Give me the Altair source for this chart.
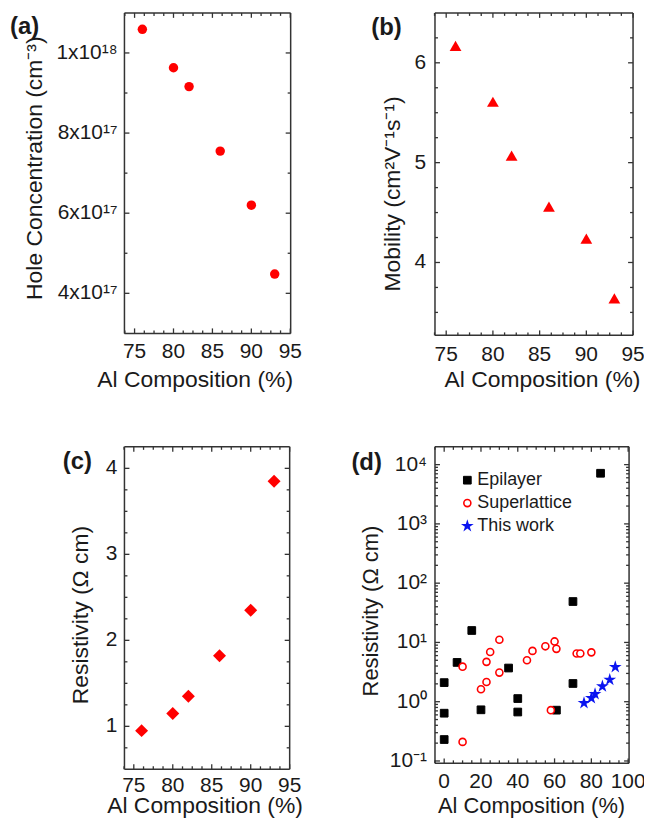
import altair as alt
import pandas as pd

# ---------------- data ----------------
AL_THIS = [76, 80, 82, 86, 90, 93]
HOLE_CONC = [1.059e18, 9.63e17, 9.16e17, 7.55e17, 6.2e17, 4.48e17]
MOBILITY = [6.17, 5.61, 5.07, 4.56, 4.24, 3.64]
RESISTIVITY = [0.95, 1.15, 1.35, 1.82, 2.35, 3.85]

EPI_AL = [0, 0, 0, 7, 15, 20, 35, 40, 40, 61, 70, 70, 85]
EPI_RHO = [2.1, 0.64, 0.23, 4.6, 15.9, 0.73, 3.7, 1.13, 0.67, 0.72, 49, 2.03, 7150]
SL_AL = [10, 10, 20, 23, 23, 25, 30, 30, 45, 48, 55, 58, 60, 61, 72, 74, 80]
SL_RHO = [3.9, 0.21, 1.62, 2.15, 4.7, 6.9, 3.1, 11.1, 5.0, 7.2, 8.6, 0.72, 10.4, 7.8, 6.5, 6.5, 6.8]

SERIES = ["Epilayer", "Superlattice", "This work"]
PANEL_LABELS = ["(a)", "(b)", "(c)", "(d)"]

X_TICKS = [75, 80, 85, 90, 95]
X_LABELS = ["75", "80", "85", "90", "95"]
X_MINOR = [73.75, 76.25, 77.5, 78.75, 81.25, 82.5, 83.75, 86.25, 87.5, 88.75, 91.25, 92.5, 93.75]
A_Y_TICKS = [4e17, 6e17, 8e17, 1e18]
A_Y_LABELS = ["4x10¹⁷", "6x10¹⁷", "8x10¹⁷", "1x10¹⁸"]
A_Y_MINOR = [5e17, 7e17, 9e17]
B_Y_TICKS = [4, 5, 6]
B_Y_LABELS = ["4", "5", "6"]
B_Y_MINOR = [3.5, 3.75, 4.25, 4.5, 4.75, 5.25, 5.5, 5.75, 6.25]
C_Y_TICKS = [1, 2, 3, 4]
C_Y_LABELS = ["1", "2", "3", "4"]
C_Y_MINOR = [0.75, 1.25, 1.5, 1.75, 2.25, 2.5, 2.75, 3.25, 3.5, 3.75]
D_X_TICKS = [0, 20, 40, 60, 80, 100]
D_X_LABELS = ["0", "20", "40", "60", "80", "100"]
D_X_MINOR = [-5, 5, 10, 15, 25, 30, 35, 45, 50, 55, 65, 70, 75, 85, 90, 95]
D_Y_TICKS = [0.1, 1, 10, 100, 1000, 10000]
D_Y_LABELS = ["10⁻¹", "10⁰", "10¹", "10²", "10³", "10⁴"]
D_Y_MINOR = [m * d for d in (0.1, 1, 10, 100, 1000) for m in range(2, 10)]

X_TITLE = "Al Composition (%)"
A_Y_TITLE = "Hole Concentration (cm⁻³)"
B_Y_TITLE = "Mobility (cm²V⁻¹s⁻¹)"
C_Y_TITLE = "Resistivity (Ω cm)"

# ---------------- style ----------------
FONT = "Liberation Sans"
TXT = "#1a1a1a"
FRAME = "#333333"
RED = "#ff0000"
BLUE = "#0a14f0"
STAR = ("M0,-1L0.2245,-0.309L0.951,-0.309L0.363,0.118L0.588,0.809L0,0.382"
        "L-0.588,0.809L-0.363,0.118L-0.951,-0.309L-0.2245,-0.309Z")
MAJ, MIN, TW, FW = 5, 3, 1.3, 1.5
TICK_FS = 21


def x_tick_labels(vals, labels, scale, h, pad):
    return alt.Chart(pd.DataFrame({"t": vals, "lab": labels})).mark_text(
        align="center", baseline="top", font=FONT, fontSize=TICK_FS, color=TXT
    ).encode(x=alt.X("t:Q", scale=scale, axis=None), y=alt.value(h + pad), text="lab:N")


def y_tick_labels(vals, labels, scale, pad):
    return alt.Chart(pd.DataFrame({"t": vals, "lab": labels})).mark_text(
        align="right", baseline="middle", font=FONT, fontSize=TICK_FS, color=TXT
    ).encode(y=alt.Y("t:Q", scale=scale, axis=None), x=alt.value(-pad), text="lab:N")


def title_text(text, x_px, y_px, angle, fs):
    return alt.Chart(pd.DataFrame({"lab": [text]})).mark_text(
        align="center", baseline="alphabetic", angle=angle, font=FONT, fontSize=fs, color=TXT
    ).encode(x=alt.value(x_px), y=alt.value(y_px), text="lab:N")


def decorations(xscale, yscale, w, h, xmaj, xmin, ymaj, ymin, label, ldx, ldy):
    """Frame edges, inward major/minor ticks on all four sides, and the panel label."""
    layers = []
    one = pd.DataFrame({"k": [0]})
    for x1, x2, y1, y2 in ((0, w, -FW / 2, FW / 2), (0, w, h - FW / 2, h + FW / 2),
                           (-FW / 2, FW / 2, 0, h), (w - FW / 2, w + FW / 2, 0, h)):
        layers.append(alt.Chart(one).mark_rect(color=FRAME, opacity=1).encode(
            x=alt.value(x1), x2=alt.value(x2), y=alt.value(y1), y2=alt.value(y2)))
    for vals, size in ((xmaj, MAJ), (xmin, MIN)):
        df = pd.DataFrame({"t": vals})
        for yc in (size / 2, h - size / 2):
            layers.append(alt.Chart(df).mark_tick(orient="vertical", size=size, thickness=TW,
                                                  color=FRAME, opacity=1).encode(
                x=alt.X("t:Q", scale=xscale, axis=None), y=alt.value(yc)))
    for vals, size in ((ymaj, MAJ), (ymin, MIN)):
        df = pd.DataFrame({"t": vals})
        for xc in (size / 2, w - size / 2):
            layers.append(alt.Chart(df).mark_tick(orient="horizontal", size=size, thickness=TW,
                                                  color=FRAME, opacity=1).encode(
                y=alt.Y("t:Q", scale=yscale, axis=None), x=alt.value(xc)))
    layers.append(alt.Chart(pd.DataFrame({"lab": [label]})).mark_text(
        align="left", baseline="top", font=FONT, fontSize=24, fontWeight="bold", color=TXT
    ).encode(text="lab:N", x=alt.value(ldx), y=alt.value(ldy)))
    return layers


def texts(xscale, yscale, h, xt, xl, xpad, yt, yl, ypad, ytitle, xtx, xty, ytx, yty, fs):
    return [
        x_tick_labels(xt, xl, xscale, h, xpad),
        y_tick_labels(yt, yl, yscale, ypad),
        title_text(X_TITLE, xtx, h + xty, 0, fs),
        title_text(ytitle, ytx, yty, 270, fs),
    ]


# ---------------- (a) ----------------
W_A, H_A = 167, 322
df_a = pd.DataFrame({"al": AL_THIS, "v": HOLE_CONC})
xs_a = alt.Scale(domain=[73.7, 95.05], nice=False, zero=False)
ys_a = alt.Scale(domain=[3.0e17, 1.1e18], nice=False, zero=False)
main_a = alt.Chart(df_a).mark_point(shape="circle", filled=True, color=RED, size=90, opacity=1).encode(
    x=alt.X("al:Q", scale=xs_a, axis=None), y=alt.Y("v:Q", scale=ys_a, axis=None))
chart_a = alt.layer(
    main_a,
    *decorations(xs_a, ys_a, W_A, H_A, X_TICKS, X_MINOR, A_Y_TICKS, A_Y_MINOR, PANEL_LABELS[0], -115, 2),
    *texts(xs_a, ys_a, H_A, X_TICKS, X_LABELS, 8, A_Y_TICKS, A_Y_LABELS, 7, A_Y_TITLE, 71, 54, -83, 156, 23),
).properties(width=W_A, height=H_A)

# ---------------- (b) ----------------
W_B, H_B = 199, 324
df_b = pd.DataFrame({"al": AL_THIS, "v": MOBILITY})
xs_b = alt.Scale(domain=[73.8, 95.0], nice=False, zero=False)
ys_b = alt.Scale(domain=[3.27, 6.5], nice=False, zero=False)
main_b = alt.Chart(df_b).mark_point(shape="triangle-up", filled=True, color=RED, size=140, opacity=1).encode(
    x=alt.X("al:Q", scale=xs_b, axis=None), y=alt.Y("v:Q", scale=ys_b, axis=None))
chart_b = alt.layer(
    main_b,
    *decorations(xs_b, ys_b, W_B, H_B, X_TICKS, X_MINOR, B_Y_TICKS, B_Y_MINOR, PANEL_LABELS[1], -64, 3),
    *texts(xs_b, ys_b, H_B, X_TICKS, X_LABELS, 9, B_Y_TICKS, B_Y_LABELS, 9, B_Y_TITLE, 108, 52, -35, 182, 23),
).properties(width=W_B, height=H_B)

# ---------------- (c) ----------------
W_C, H_C = 166, 324
df_c = pd.DataFrame({"al": AL_THIS, "v": RESISTIVITY})
xs_c = alt.Scale(domain=[73.8, 95.0], nice=False, zero=False)
ys_c = alt.Scale(domain=[0.5, 4.25], nice=False, zero=False)
main_c = alt.Chart(df_c).mark_point(shape="diamond", filled=True, color=RED, size=170, opacity=1).encode(
    x=alt.X("al:Q", scale=xs_c, axis=None), y=alt.Y("v:Q", scale=ys_c, axis=None))
chart_c = alt.layer(
    main_c,
    *decorations(xs_c, ys_c, W_C, H_C, X_TICKS, X_MINOR, C_Y_TICKS, C_Y_MINOR, PANEL_LABELS[2], -62, 3),
    *texts(xs_c, ys_c, H_C, X_TICKS, X_LABELS, 6, C_Y_TICKS, C_Y_LABELS, 7, C_Y_TITLE, 81, 44, -37, 169, 23),
).properties(width=W_C, height=H_C)

# ---------------- (d) ----------------
W_D, H_D = 195, 318
df_d = pd.concat([
    pd.DataFrame({"al": EPI_AL, "v": EPI_RHO, "series": SERIES[0]}),
    pd.DataFrame({"al": SL_AL, "v": SL_RHO, "series": SERIES[1]}),
    pd.DataFrame({"al": AL_THIS, "v": RESISTIVITY, "series": SERIES[2]}),
], ignore_index=True)
xs_d = alt.Scale(domain=[-5, 100.5], nice=False, zero=False)
ys_d = alt.Scale(type="log", domain=[0.0912, 19950], nice=False)
# the legend is hoisted to the top level of the concat, so its position is relative to panel (a)'s origin
leg = alt.Legend(orient="none", legendX=335.5, legendY=460.5, title=None, labelFont=FONT, labelFontSize=18,
                 labelColor=TXT, rowPadding=5, labelOffset=1, padding=0)
main_d = alt.Chart(df_d).mark_point(opacity=1).encode(
    x=alt.X("al:Q", scale=xs_d, axis=None),
    y=alt.Y("v:Q", scale=ys_d, axis=None),
    shape=alt.Shape("series:N", scale=alt.Scale(domain=SERIES, range=["square", "circle", STAR]), legend=leg),
    fill=alt.Fill("series:N", scale=alt.Scale(domain=SERIES, range=["#000000", "#ffffff", BLUE]), legend=leg),
    stroke=alt.Stroke("series:N", scale=alt.Scale(domain=SERIES, range=["#000000", RED, BLUE]), legend=leg),
    size=alt.Size("series:N", scale=alt.Scale(domain=SERIES, range=[60, 40, 140]), legend=leg),
    strokeWidth=alt.StrokeWidth("series:N", scale=alt.Scale(domain=SERIES, range=[1, 2.2, 0.8]), legend=leg),
)
chart_d = alt.layer(
    main_d,
    *decorations(xs_d, ys_d, W_D, H_D, D_X_TICKS, D_X_MINOR, D_Y_TICKS, D_Y_MINOR, PANEL_LABELS[3], -84, 4),
    *texts(xs_d, ys_d, H_D, D_X_TICKS, D_X_LABELS, 8, D_Y_TICKS, D_Y_LABELS, 8, C_Y_TITLE, 97, 50, -57, 165, 22),
).properties(width=W_D, height=H_D)

# keep the whole drawing inside the 652x832 window (no page overflow)
chart = alt.concat(chart_a, chart_b, chart_c, chart_d, columns=2,
                   spacing={"row": 112, "column": 145}, bounds="flush").properties(
    padding={"left": 2, "top": 2, "right": -2, "bottom": 0}
).configure(font=FONT).configure_view(stroke=None)

chart.save("out.html", embed_options={"renderer": "svg", "actions": False})
